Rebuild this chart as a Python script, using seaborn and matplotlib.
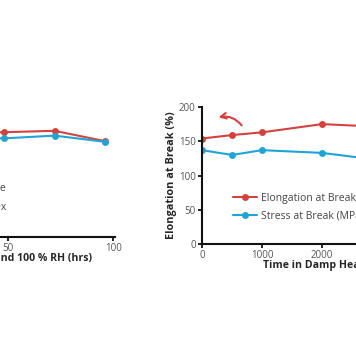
import matplotlib
matplotlib.use("Agg")
import matplotlib.pyplot as plt
import seaborn as sns
import pandas as pd

# ---- data ----
left_hours = [0, 24, 48, 72, 96]
left_elong = [152, 152, 153, 155, 140]
left_stress = [145, 144, 144, 148, 139]
left_labels = ["Elongation at Break \u2013 Reference", "Stress at Break \u2013 Reflex"]

right_hours = [0, 500, 1000, 2000, 3000]
right_elong = [154, 159, 163, 175, 171]
right_stress = [137, 130, 137, 133, 122]
right_labels = ["Elongation at Break (%)", "Stress at Break (MPa)"]

left_ticks = [0, 50, 100]
right_xticks = [0, 1000, 2000, 3000]
yticks = [0, 50, 100, 150, 200]

RED = "#d3433d"
BLUE = "#20a4d6"
GRAY = "#555555"

sns.set_style("ticks")
plt.rcParams["font.family"] = ["Open Sans", "DejaVu Sans"]

W, H = 356, 364
fig = plt.figure(figsize=(W / 100, H / 100), dpi=100)

def px_axes(x0, x1, ytop, ybot):
    return [x0 / W, (H - ybot) / H, (x1 - x0) / W, (ybot - ytop) / H]

# left panel (mostly off-canvas)
axL = fig.add_axes(px_axes(-96.7, 115.4, 100, 237))
dfL = pd.DataFrame({"h": left_hours * 2,
                    "v": left_elong + left_stress,
                    "s": [left_labels[0]] * 5 + [left_labels[1]] * 5})
sns.lineplot(data=dfL, x="h", y="v", hue="s", palette=[RED, BLUE], marker="o",
             markersize=5, markeredgewidth=0, linewidth=1.5, ax=axL, legend=False)
axL.set_xlim(0, 101)
axL.set_ylim(0, 200)
axL.set_xticks(left_ticks)
axL.set_yticks(yticks)
axL.set_xlabel("Time at 121 \u00b0C and 100 % RH (hrs)", fontsize=7.6, fontweight="bold")
axL.xaxis.label.set_ha("right")
axL.xaxis.set_label_coords((92 + 96.7) / 212.1, -0.115)
axL.set_ylabel("")
# legend texts of the left panel (right-aligned, mostly off-canvas)
for lab, yy in zip(left_labels, [189, 208]):
    fig.text(6 / W, (H - yy) / H, lab, ha="right", va="center", fontsize=7.5, color="#444444")

# right panel
axR = fig.add_axes(px_axes(202, 382, 107, 244))
dfR = pd.DataFrame({"h": right_hours * 2,
                    "v": right_elong + right_stress,
                    "s": [right_labels[0]] * 5 + [right_labels[1]] * 5})
sns.lineplot(data=dfR, x="h", y="v", hue="s", palette=[RED, BLUE], marker="o",
             markersize=5, markeredgewidth=0, linewidth=1.5, ax=axR)
axR.set_xlim(0, 3000)
axR.set_ylim(0, 200)
axR.set_xticks(right_xticks)
axR.set_yticks(yticks)
axR.set_xlabel("Time in Damp Heat (hrs)", fontsize=7.6, fontweight="bold")
axR.xaxis.label.set_ha("left")
axR.xaxis.set_label_coords((263 - 202) / 180, -0.115)
axR.set_ylabel("Elongation at Break (%)", fontsize=7.8, fontweight="bold")
axR.yaxis.set_label_coords(-0.14, 0.5)
axR.legend(loc="upper left", bbox_to_anchor=(233 / W, (H - 193) / H), bbox_transform=fig.transFigure,
           frameon=False, fontsize=7.5, borderpad=0, borderaxespad=0, labelspacing=0.6,
           handlelength=2.3, handletextpad=0.4, labelcolor="#444444")
axR.annotate("", xy=(230, 184), xytext=(690, 170),
             arrowprops=dict(arrowstyle="->", color=RED, lw=1.5,
                             connectionstyle="arc3,rad=0.35"))

for ax in (axL, axR):
    sns.despine(ax=ax)
    for sp in ("left", "bottom"):
        ax.spines[sp].set_linewidth(1.5)
        ax.spines[sp].set_color("#111111")
    ax.tick_params(axis="both", length=3, width=1.3, color="#111111",
                   labelsize=7, labelcolor=GRAY, pad=1.5)

fig.savefig("out.png", dpi=100)
